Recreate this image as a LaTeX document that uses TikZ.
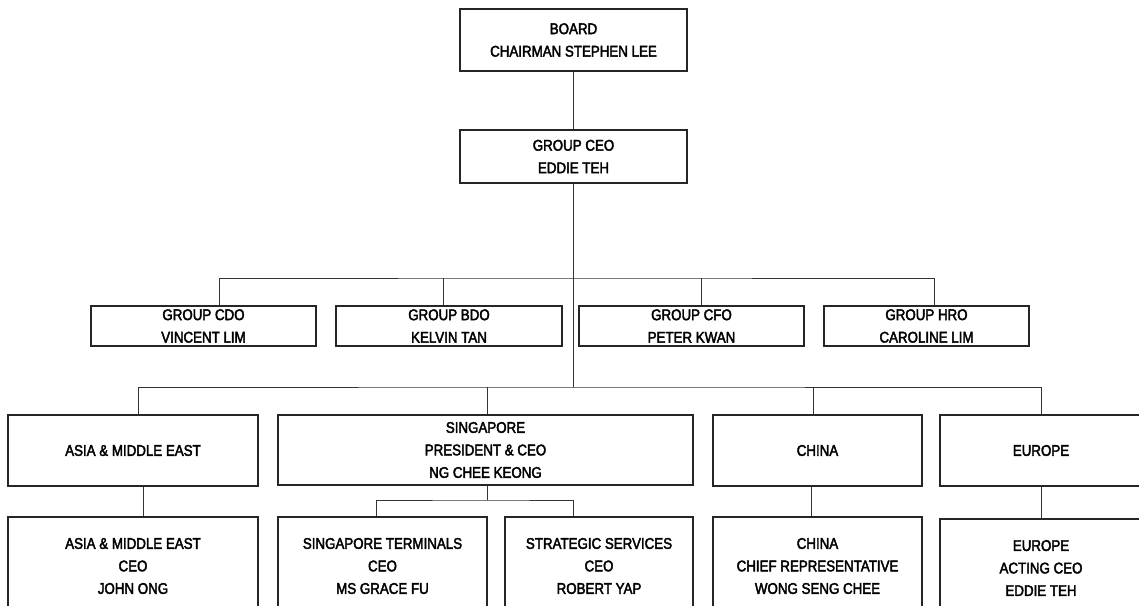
\documentclass[tikz,border=0pt]{standalone}
\usepackage{fontspec}
\setmainfont{Liberation Sans}[FakeStretch=0.86,FakeBold=2.5]
\begin{document}
\begin{tikzpicture}[x=1pt,y=-1pt,
  box/.style={draw=black!85,line width=1.1pt,rectangle,inner sep=0pt,
    align=center,font=\fontsize{15.5}{22.5}\selectfont},
  link/.style={draw=black!80,line width=0.9pt}]
\useasboundingbox (0,0) rectangle (1139,605);
\clip (0,0) rectangle (1139,605);
\fill[white] (0,0) rectangle (1139,605);

% top of the hierarchy
\node[box,minimum width=227,minimum height=62] (board) at (573.5,40)
  {BOARD\\CHAIRMAN STEPHEN LEE};
\node[box,minimum width=227,minimum height=53] (ceo) at (573.5,156.5)
  {GROUP CEO\\EDDIE TEH};

% group officers
\node[box,minimum width=225,minimum height=40] (cdo) at (203.5,326)
  {GROUP CDO\\VINCENT LIM};
\node[box,minimum width=226,minimum height=40] (bdo) at (449,326)
  {GROUP BDO\\KELVIN TAN};
\node[box,minimum width=225,minimum height=40] (cfo) at (691.5,326)
  {GROUP CFO\\PETER KWAN};
\node[box,minimum width=205,minimum height=40] (hro) at (926.5,326)
  {GROUP HRO\\CAROLINE LIM};

% regions
\node[box,minimum width=250,minimum height=71] (asia) at (133,450.5)
  {ASIA \& MIDDLE EAST};
\node[box,minimum width=415,minimum height=70] (sing) at (485.5,450)
  {SINGAPORE\\PRESIDENT \& CEO\\NG CHEE KEONG};
\node[box,minimum width=209,minimum height=71] (china) at (817.5,450.5)
  {CHINA};
\node[box,minimum width=202,minimum height=71] (europe) at (1041,450.5)
  {EUROPE};

% regional heads
\node[box,minimum width=250,minimum height=98] (asiaceo) at (133,566)
  {ASIA \& MIDDLE EAST\\CEO\\JOHN ONG};
\node[box,minimum width=209,minimum height=98] (sgt) at (382.5,566)
  {SINGAPORE TERMINALS\\CEO\\MS GRACE FU};
\node[box,minimum width=188,minimum height=98] (ss) at (599,566)
  {STRATEGIC SERVICES\\CEO\\ROBERT YAP};
\node[box,minimum width=209,minimum height=98] (chinarep) at (817.5,566)
  {CHINA\\CHIEF REPRESENTATIVE\\WONG SENG CHEE};
\node[box,minimum width=202,minimum height=98] (europeceo) at (1041,568)
  {EUROPE\\ACTING CEO\\EDDIE TEH};

% bus junctions
\coordinate (busTop) at (573.5,278);
\coordinate (busMid) at (573.5,387);
\coordinate (sgBus) at (487,500);

% connectors
\draw[link] (board) -- (ceo);
\draw[link] (ceo) -- (busMid);
\draw[link] ([xshift=15.5pt]cdo.north) |- (busTop) -| ([xshift=7.5pt]hro.north);
\draw[link] ([xshift=-6pt]bdo.north) -- ([xshift=-6pt]bdo.north |- busTop);
\draw[link] ([xshift=9.5pt]cfo.north) -- ([xshift=9.5pt]cfo.north |- busTop);

\draw[link] ([xshift=5pt]asia.north) |- (busMid) -| (europe.north);
\draw[link] ([xshift=1.5pt]sing.north) -- ([xshift=1.5pt]sing.north |- busMid);
\draw[link] ([xshift=-4.5pt]china.north) -- ([xshift=-4.5pt]china.north |- busMid);

\draw[link] ([xshift=10pt]asia.south) -- ([xshift=10pt]asiaceo.north);
\draw[link] ([xshift=1.5pt]sing.south) -- (sgBus);
\draw[link] ([xshift=-6.5pt]sgt.north) |- (sgBus) -| ([xshift=-26pt]ss.north);
\draw[link] ([xshift=-6pt]china.south) -- ([xshift=-6pt]chinarep.north);
\draw[link] (europe.south) -- (europeceo.north);
\end{tikzpicture}
\end{document}
